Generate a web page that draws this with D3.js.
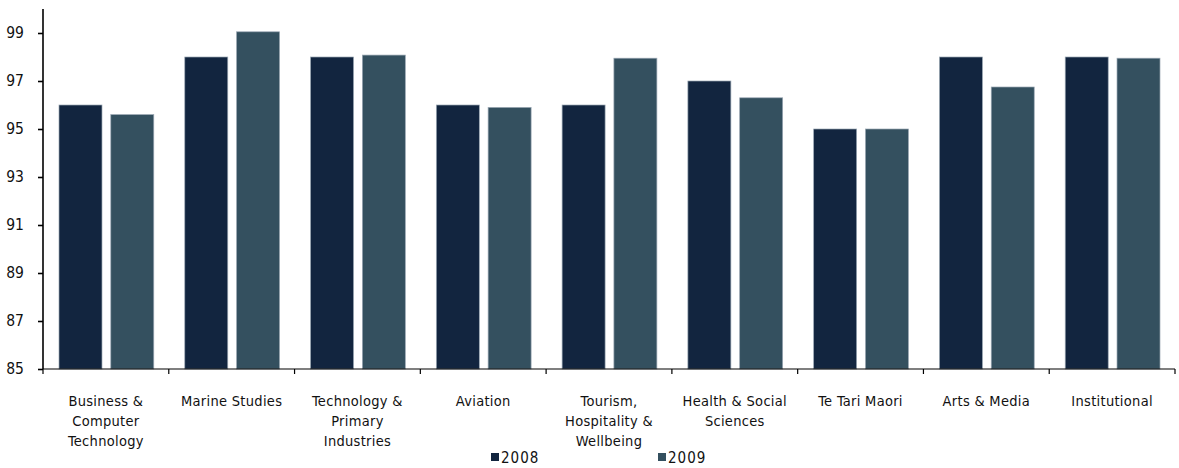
<!DOCTYPE html>
<html><head><meta charset="utf-8">
<script src="https://cdn.jsdelivr.net/npm/d3@7"></script>
<style>body{margin:0;background:#fff}svg{display:block}text{font-family:"DejaVu Sans Condensed","DejaVu Sans",sans-serif;fill:#111}</style>
</head><body><svg id="c" width="1179" height="468"></svg>
<script>
const categories = [["Business &","Computer","Technology"],["Marine Studies"],["Technology &","Primary","Industries"],["Aviation"],["Tourism,","Hospitality &","Wellbeing"],["Health & Social","Sciences"],["Te Tari Maori"],["Arts & Media"],["Institutional"]];
const series = ["2008","2009"];
const values2008 = [96, 98, 98, 96, 96, 97, 95, 98, 98];
const values2009 = [95.6, 99.05, 98.08, 95.9, 97.95, 96.3, 95.0, 96.75, 97.95];
const yTicks = [85, 87, 89, 91, 93, 95, 97, 99];
const colors = ["#12253f", "#34505f"];

(function () {
const svg = d3.select("#c");
const mLeft = 43, mRight = 1175, mTop = 9, mBottom = 369;
const x = d3.scaleBand().domain(d3.range(categories.length)).range([mLeft, mRight]).padding(0);
const y = d3.scaleLinear().domain([85, 100]).range([mBottom, mTop]);
const inner = d3.scaleBand().domain(series).range([16, x.bandwidth() - 15]).paddingInner(0.17);

const data = values2008.map((v, i) => [v, values2009[i]]);
const g = svg.append("g");
data.forEach((d, i) => {
  series.forEach((s, j) => {
    g.append("rect")
      .attr("x", x(i) + inner(s))
      .attr("y", y(d[j]))
      .attr("width", inner.bandwidth())
      .attr("height", y(85) - y(d[j]))
      .attr("fill", colors[j])
      .attr("stroke", "#9aa7b3").attr("stroke-width", 0.7);
  });
});

// Y axis
const yAxis = d3.axisLeft(y).tickValues(yTicks).tickSize(5).tickPadding(14);
const ya = svg.append("g").attr("transform", `translate(${mLeft},0)`).call(yAxis);
ya.select(".domain").attr("d", `M0,${mTop}V${mBottom}`).attr("stroke", "#000").attr("stroke-width", 1.6);
ya.selectAll(".tick line").attr("stroke", "#000").attr("stroke-width", 1.6);
ya.selectAll("text").attr("font-size", 15.5).attr("fill", "#111").style("font-family", '"DejaVu Sans Condensed",sans-serif');

// X axis
const xa = svg.append("g").attr("transform", `translate(0,${mBottom})`);
xa.append("line").attr("x1", mLeft).attr("x2", mRight).attr("y1", 0).attr("y2", 0).attr("stroke", "#000").attr("stroke-width", 1.2);
d3.range(categories.length + 1).forEach(i => {
  const xx = i < categories.length ? x(i) : mRight;
  xa.append("line").attr("x1", xx).attr("x2", xx).attr("y1", 0).attr("y2", 5).attr("stroke", "#000").attr("stroke-width", 1.2);
});
categories.forEach((lines, i) => {
  const t = xa.append("text").attr("text-anchor", "middle").attr("font-size", 14.5).attr("letter-spacing", 0.3)
    .attr("x", x(i) + x.bandwidth() / 2).attr("y", 37);
  lines.forEach((l, k) => t.append("tspan").attr("x", x(i) + x.bandwidth() / 2).attr("dy", k === 0 ? 0 : 20).text(l));
});

// Legend
const legX = [491, 658];
series.forEach((s, j) => {
  svg.append("rect").attr("x", legX[j]).attr("y", 453).attr("width", 8).attr("height", 8).attr("fill", colors[j]);
  svg.append("text").attr("x", legX[j] + 10).attr("y", 463).attr("font-size", 15).attr("letter-spacing", 1).text(s);
});
})();
</script></body></html>
